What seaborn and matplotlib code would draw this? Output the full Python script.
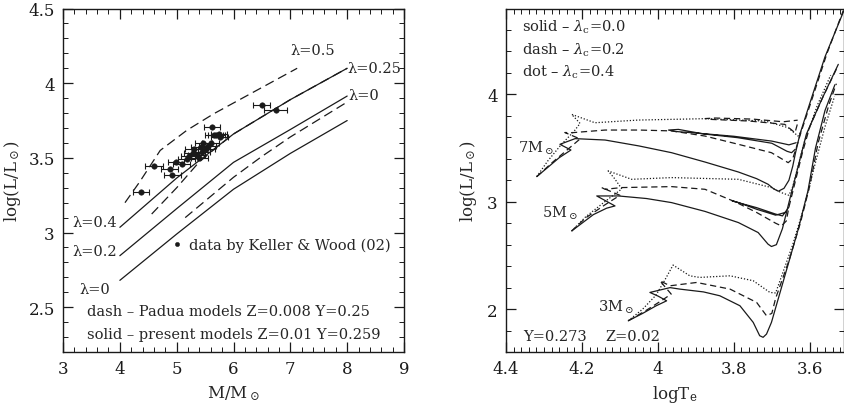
import numpy as np
import matplotlib
matplotlib.use("Agg")
import matplotlib.pyplot as plt
from matplotlib.ticker import MultipleLocator
import seaborn as sns

# ---------------- left panel: luminosity vs mass ----------------
mass_grid = [4, 5, 6, 7, 8]
present_l04 = [3.035, 3.365, 3.66, 3.89, 4.10]
present_l02 = [2.845, 3.16, 3.47, 3.69, 3.914]
present_l00 = [2.68, 2.99, 3.29, 3.53, 3.75]

padua_l05_m = [4.09, 4.35, 4.71, 5.18, 5.65, 7.12]
padua_l05_l = [3.20, 3.34, 3.55, 3.685, 3.795, 4.10]
padua_l025_m = [4.56, 5.0, 5.39, 5.7, 6.0, 7.0, 8.0]
padua_l025_l = [3.124, 3.30, 3.47, 3.57, 3.66, 3.89, 4.10]
padua_l00_m = [5.15, 6.0, 6.5, 7.0, 8.0]
padua_l00_l = [3.10, 3.37, 3.51, 3.64, 3.874]

kw_mass = [4.37, 4.60, 4.88, 4.92, 4.98, 5.09, 5.18, 5.22, 5.30, 5.35, 5.42, 5.45,
           5.40, 5.47, 5.55, 5.62, 5.65, 5.70, 5.74, 5.76, 5.60, 6.50, 6.74, 5.28, 5.52]
kw_logl = [3.274, 3.444, 3.426, 3.386, 3.47, 3.46, 3.49, 3.51, 3.56, 3.52, 3.57, 3.54,
           3.50, 3.60, 3.58, 3.706, 3.65, 3.65, 3.66, 3.64, 3.60, 3.851, 3.822, 3.53, 3.56]
kw_merr = [0.14, 0.16, 0.15, 0.15, 0.14, 0.15, 0.15, 0.14, 0.15, 0.15, 0.16, 0.14,
           0.15, 0.15, 0.15, 0.14, 0.16, 0.15, 0.14, 0.15, 0.15, 0.15, 0.2, 0.15, 0.15]

# ---------------- right panel: HR tracks (logTe, logL) ----------------
m7_solid_te = [4.319, 4.29, 4.26, 4.229, 4.258, 4.218, 4.139, 4.05, 3.964, 3.876, 3.788, 3.740,
               3.710, 3.695, 3.683, 3.668, 3.655, 3.645, 3.638, 3.626, 3.597, 3.56, 3.508]
m7_solid_l = [3.234, 3.32, 3.41, 3.482, 3.535, 3.588, 3.575, 3.52, 3.457, 3.37, 3.277, 3.215,
              3.163, 3.12, 3.098, 3.125, 3.20, 3.33, 3.45, 3.63, 3.95, 4.35, 4.80]
m7_loop_te = [3.638, 3.648, 3.660, 3.70, 3.79, 3.88, 3.946, 3.972, 3.955, 3.90, 3.80, 3.70, 3.655, 3.636]
m7_loop_l = [3.49, 3.457, 3.47, 3.545, 3.597, 3.632, 3.674, 3.668, 3.655, 3.64, 3.61, 3.565, 3.53, 3.55]
m7_dash_te = [4.319, 4.28, 4.24, 4.205, 4.245, 4.227, 4.139, 4.05, 3.964, 3.876, 3.788, 3.701, 3.657,
              3.645, 3.636, 3.622, 3.592, 3.555, 3.512]
m7_dash_l = [3.234, 3.36, 3.48, 3.585, 3.645, 3.643, 3.668, 3.668, 3.66, 3.612, 3.535, 3.457, 3.364,
             3.40, 3.50, 3.66, 3.98, 4.38, 4.78]
m7_dloop_te = [3.633, 3.639, 3.666, 3.76, 3.859, 3.875, 3.85, 3.75, 3.67, 3.632]
m7_dloop_l = [3.72, 3.643, 3.721, 3.752, 3.767, 3.775, 3.78, 3.77, 3.745, 3.76]
m7_dot_te = [4.319, 4.29, 4.255, 4.22, 4.205, 4.227, 4.166, 4.052, 3.876, 3.718, 3.657, 3.631, 3.622]
m7_dot_l = [3.234, 3.38, 3.53, 3.66, 3.73, 3.814, 3.736, 3.761, 3.774, 3.752, 3.69, 3.612, 3.66]

m5_solid_te = [4.227, 4.20, 4.17, 4.135, 4.113, 4.161, 4.104, 4.03, 3.964, 3.876, 3.788, 3.736,
               3.710, 3.701, 3.688, 3.672, 3.653, 3.609, 3.569, 3.525]
m5_solid_l = [2.728, 2.80, 2.88, 2.94, 2.961, 3.054, 3.054, 3.03, 2.992, 2.91, 2.806, 2.713,
              2.605, 2.583, 2.60, 2.75, 3.02, 3.63, 3.95, 4.28]
m5_loop_te = [3.655, 3.672, 3.69, 3.74, 3.797, 3.805, 3.79, 3.74, 3.69, 3.665]
m5_loop_l = [2.95, 2.868, 2.885, 2.945, 3.00, 3.01, 2.995, 2.93, 2.875, 2.90]
m5_dash_te = [4.227, 4.19, 4.14, 4.10, 4.148, 4.139, 4.096, 3.964, 3.876, 3.797, 3.74, 3.69, 3.675,
              3.662, 3.655, 3.62, 3.60, 3.565, 3.528]
m5_dash_l = [2.728, 2.85, 2.97, 3.06, 3.132, 3.116, 3.132, 3.141, 3.116, 3.00, 2.90, 2.80, 2.775,
             2.82, 2.95, 3.45, 3.70, 3.98, 4.25]
m5_dot_te = [4.227, 4.19, 4.14, 4.095, 4.115, 4.131, 4.069, 3.964, 3.788, 3.701, 3.675, 3.655, 3.645,
             3.615, 3.58, 3.545]
m5_dot_l = [2.728, 2.86, 3.0, 3.12, 3.22, 3.287, 3.209, 3.225, 3.209, 3.132, 3.085, 3.06, 3.14,
            3.55, 3.90, 4.18]

m3_solid_te = [4.078, 4.04, 4.005, 3.977, 3.999, 4.021, 3.968, 3.942, 3.88, 3.837, 3.784, 3.749, 3.732,
               3.723, 3.714, 3.701, 3.66, 3.63, 3.605, 3.585, 3.56, 3.534]
m3_solid_l = [1.891, 1.96, 2.03, 2.077, 2.12, 2.155, 2.20, 2.186, 2.16, 2.124, 2.031, 1.876, 1.752,
              1.737, 1.767, 1.876, 2.38, 2.75, 3.10, 3.50, 3.85, 4.09]
m3_dash_te = [4.078, 4.03, 3.99, 3.965, 3.995, 3.968, 3.898, 3.81, 3.74, 3.714, 3.70, 3.69,
              3.655, 3.625, 3.60, 3.578, 3.55, 3.53]
m3_dash_l = [1.891, 1.99, 2.08, 2.14, 2.264, 2.217, 2.248, 2.186, 2.062, 1.938, 1.96, 2.10,
             2.45, 2.80, 3.15, 3.55, 3.90, 4.10]
m3_dot_te = [4.078, 4.04, 4.005, 3.985, 3.96, 3.916, 3.89, 3.81, 3.749, 3.705, 3.69, 3.68,
             3.645, 3.615, 3.59, 3.56, 3.535]
m3_dot_l = [1.891, 2.00, 2.13, 2.25, 2.41, 2.31, 2.295, 2.31, 2.264, 2.155, 2.15, 2.25,
            2.60, 2.95, 3.30, 3.70, 3.98]

sns.set_theme(style="ticks")
plt.rcParams["font.family"] = ["DejaVu Serif"]
plt.rcParams["mathtext.fontset"] = "dejavuserif"

fig = plt.figure(figsize=(8.45, 4.06), dpi=100)
ax1 = fig.add_axes([0.0746, 0.1305, 0.4035, 0.846])
ax2 = fig.add_axes([0.5988, 0.1305, 0.4, 0.846])

LW = 0.9
PAD_DASH = (0, (7.5, 4))


def line(ax, x, y, ls="-", lw=LW):
    sns.lineplot(x=x, y=y, sort=False, estimator=None, color="k",
                 linewidth=lw, linestyle=ls, ax=ax)


# left panel
for ll in (present_l04, present_l02, present_l00):
    line(ax1, mass_grid, ll)
line(ax1, padua_l05_m, padua_l05_l, PAD_DASH)
line(ax1, padua_l025_m, padua_l025_l, PAD_DASH)
line(ax1, padua_l00_m, padua_l00_l, PAD_DASH)

ax1.errorbar(kw_mass, kw_logl, xerr=kw_merr, fmt="none", ecolor="k",
             elinewidth=0.8, capsize=2, capthick=0.8)
sns.scatterplot(x=kw_mass, y=kw_logl, color="k", s=16, edgecolor="k", ax=ax1, zorder=3)
sns.scatterplot(x=[5.0], y=[2.92], color="k", s=10, edgecolor="k", ax=ax1)

tfs = 10.5
ax1.text(5.22, 2.92, "data by Keller & Wood (02)", fontsize=tfs, va="center")
ax1.text(3.42, 2.475, "dash – Padua models Z=0.008 Y=0.25", fontsize=tfs, va="center")
ax1.text(3.42, 2.32, "solid – present models Z=0.01 Y=0.259", fontsize=tfs, va="center")
ax1.text(7.39, 4.22, "λ=0.5", fontsize=tfs, ha="center", va="center")
ax1.text(8.01, 4.10, "λ=0.25", fontsize=tfs, va="center")
ax1.text(8.03, 3.92, "λ=0", fontsize=tfs, va="center")
ax1.text(3.95, 3.068, "λ=0.4", fontsize=tfs, ha="right", va="center")
ax1.text(3.95, 2.878, "λ=0.2", fontsize=tfs, ha="right", va="center")
ax1.text(3.55, 2.62, "λ=0", fontsize=tfs, ha="center", va="center")

ax1.set_xlim(3, 9)
ax1.set_ylim(2.2, 4.5)
ax1.xaxis.set_major_locator(MultipleLocator(1))
ax1.xaxis.set_minor_locator(MultipleLocator(0.2))
ax1.yaxis.set_major_locator(MultipleLocator(0.5))
ax1.yaxis.set_minor_locator(MultipleLocator(0.1))
ax1.set_xticks([3, 4, 5, 6, 7, 8, 9])
ax1.set_xticklabels(["3", "4", "5", "6", "7", "8", "9"])
ax1.set_yticks([2.5, 3, 3.5, 4, 4.5])
ax1.set_yticklabels(["2.5", "3", "3.5", "4", "4.5"])
ax1.set_xlabel(r"M/M$_\odot$", fontsize=12, labelpad=4)
ax1.set_ylabel(r"log(L/L$_\odot$)", fontsize=12, labelpad=4)

# right panel
line(ax2, m7_solid_te, m7_solid_l)
line(ax2, m7_loop_te, m7_loop_l)
line(ax2, m7_dash_te, m7_dash_l, (0, (5, 3)))
line(ax2, m7_dloop_te, m7_dloop_l, (0, (5, 3)))
line(ax2, m7_dot_te, m7_dot_l, (0, (1, 1.5)))
line(ax2, m5_solid_te, m5_solid_l)
line(ax2, m5_loop_te, m5_loop_l)
line(ax2, m5_dash_te, m5_dash_l, (0, (5, 3)))
line(ax2, m5_dot_te, m5_dot_l, (0, (1, 1.5)))
line(ax2, m3_solid_te, m3_solid_l)
line(ax2, m3_dash_te, m3_dash_l, (0, (5, 3)))
line(ax2, m3_dot_te, m3_dot_l, (0, (1, 1.5)))

ax2.text(4.359, 4.635, r"solid – $\lambda_\mathrm{c}$=0.0", fontsize=tfs, va="center")
ax2.text(4.359, 4.42, r"dash – $\lambda_\mathrm{c}$=0.2", fontsize=tfs, va="center")
ax2.text(4.359, 4.217, r"dot – $\lambda_\mathrm{c}$=0.4", fontsize=tfs, va="center")
ax2.text(4.368, 3.507, r"7M$_\odot$", fontsize=tfs, va="center")
ax2.text(4.306, 2.90, r"5M$_\odot$", fontsize=tfs, va="center")
ax2.text(4.158, 2.03, r"3M$_\odot$", fontsize=tfs, va="center")
ax2.text(4.355, 1.746, "Y=0.273", fontsize=tfs, va="center")
ax2.text(4.139, 1.746, "Z=0.02", fontsize=tfs, va="center")

ax2.set_xlim(4.4, 3.51)
ax2.set_ylim(1.6, 4.8)
ax2.set_xticks([4.4, 4.2, 4.0, 3.8, 3.6])
ax2.set_xticklabels(["4.4", "4.2", "4", "3.8", "3.6"])
ax2.xaxis.set_minor_locator(MultipleLocator(0.02))
ax2.set_yticks([2, 3, 4])
ax2.set_yticklabels(["2", "3", "4"])
ax2.yaxis.set_minor_locator(MultipleLocator(0.2))
ax2.set_xlabel(r"log$\mathrm{T_e}$", fontsize=12, labelpad=4)
ax2.set_ylabel(r"log(L/L$_\odot$)", fontsize=12, labelpad=6)

for ax in (ax1, ax2):
    ax.tick_params(which="both", direction="in", top=True, right=True,
                   colors="k", labelsize=12)
    ax.tick_params(which="major", length=7, width=0.9, pad=6)
    ax.tick_params(which="minor", length=3.5, width=0.7)
    for sp in ax.spines.values():
        sp.set_linewidth(1.0)
        sp.set_color("k")
    ax.grid(False)

fig.savefig("out.png", dpi=100)
